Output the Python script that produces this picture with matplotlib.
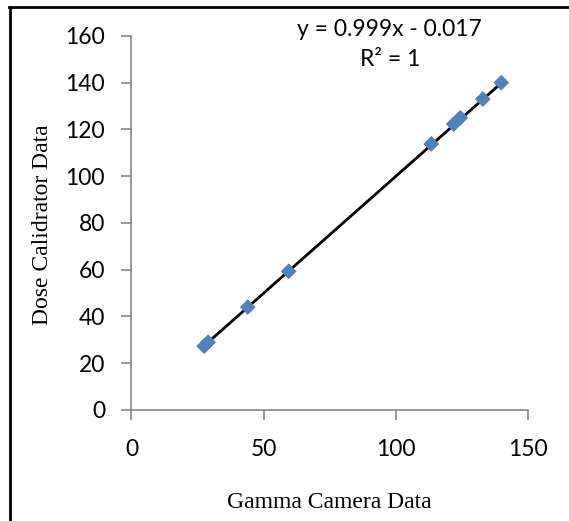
import matplotlib
matplotlib.use("Agg")
import matplotlib.pyplot as plt
import numpy as np

# data
gamma_camera = [27.5, 29.0, 44.0, 59.5, 113.5, 122.0, 124.5, 133.0, 140.0]
dose_calibrator = [27.3, 29.0, 44.0, 59.3, 113.8, 122.3, 125.0, 133.0, 140.0]
slope = 0.999
intercept = -0.017
x_ticks = [0, 50, 100, 150]
y_ticks = [0, 20, 40, 60, 80, 100, 120, 140, 160]

axis_grey = "#868686"

fig = plt.figure(figsize=(5.69, 5.21), dpi=100)
ax = fig.add_axes([0.2311, 0.2131, 0.6963, 0.7179])

# trendline over the data range
xs = np.array([min(gamma_camera), max(gamma_camera)])
ax.plot(xs, slope * xs + intercept, color="black", lw=2, zorder=2)
ax.scatter(gamma_camera, dose_calibrator, marker="D", s=65, color="#4F81BD",
           edgecolors="none", zorder=3)

ax.set_xlim(0, 150)
ax.set_ylim(0, 160)
ax.set_xticks(x_ticks)
ax.set_yticks(y_ticks)

for side in ["top", "right"]:
    ax.spines[side].set_visible(False)
for side in ["left", "bottom"]:
    ax.spines[side].set_color(axis_grey)
    ax.spines[side].set_linewidth(1.2)
ax.tick_params(direction="out", length=7, width=1.2, color=axis_grey,
               labelsize=16.5, labelcolor="black")
ax.tick_params(axis="y", pad=12)
ax.tick_params(axis="x", pad=14)
for lbl in ax.get_xticklabels() + ax.get_yticklabels():
    lbl.set_family("Lato")

fig.text(0.685, 0.943, "y = 0.999x - 0.017", ha="center", va="center",
         fontsize=16.5, family="Lato")
fig.text(0.685, 0.885, "R² = 1", ha="center", va="center",
         fontsize=16.5, family="Lato")

fig.text(0.578, 0.035, "Gamma Camera Data", ha="center", va="center",
         fontsize=17, family="Liberation Serif")
fig.text(0.074, 0.568, "Dose Calidrator Data", ha="center", va="center",
         rotation=90, fontsize=17, family="Liberation Serif")

# outer frame (only left and top edges visible in the crop)
fig.add_artist(plt.Line2D([0.017, 0.017], [0, 0.987], color="black", lw=2,
                          transform=fig.transFigure))
fig.add_artist(plt.Line2D([0.016, 1.0], [0.987, 0.987], color="black", lw=2,
                          transform=fig.transFigure))

fig.savefig("out.png", dpi=100)
